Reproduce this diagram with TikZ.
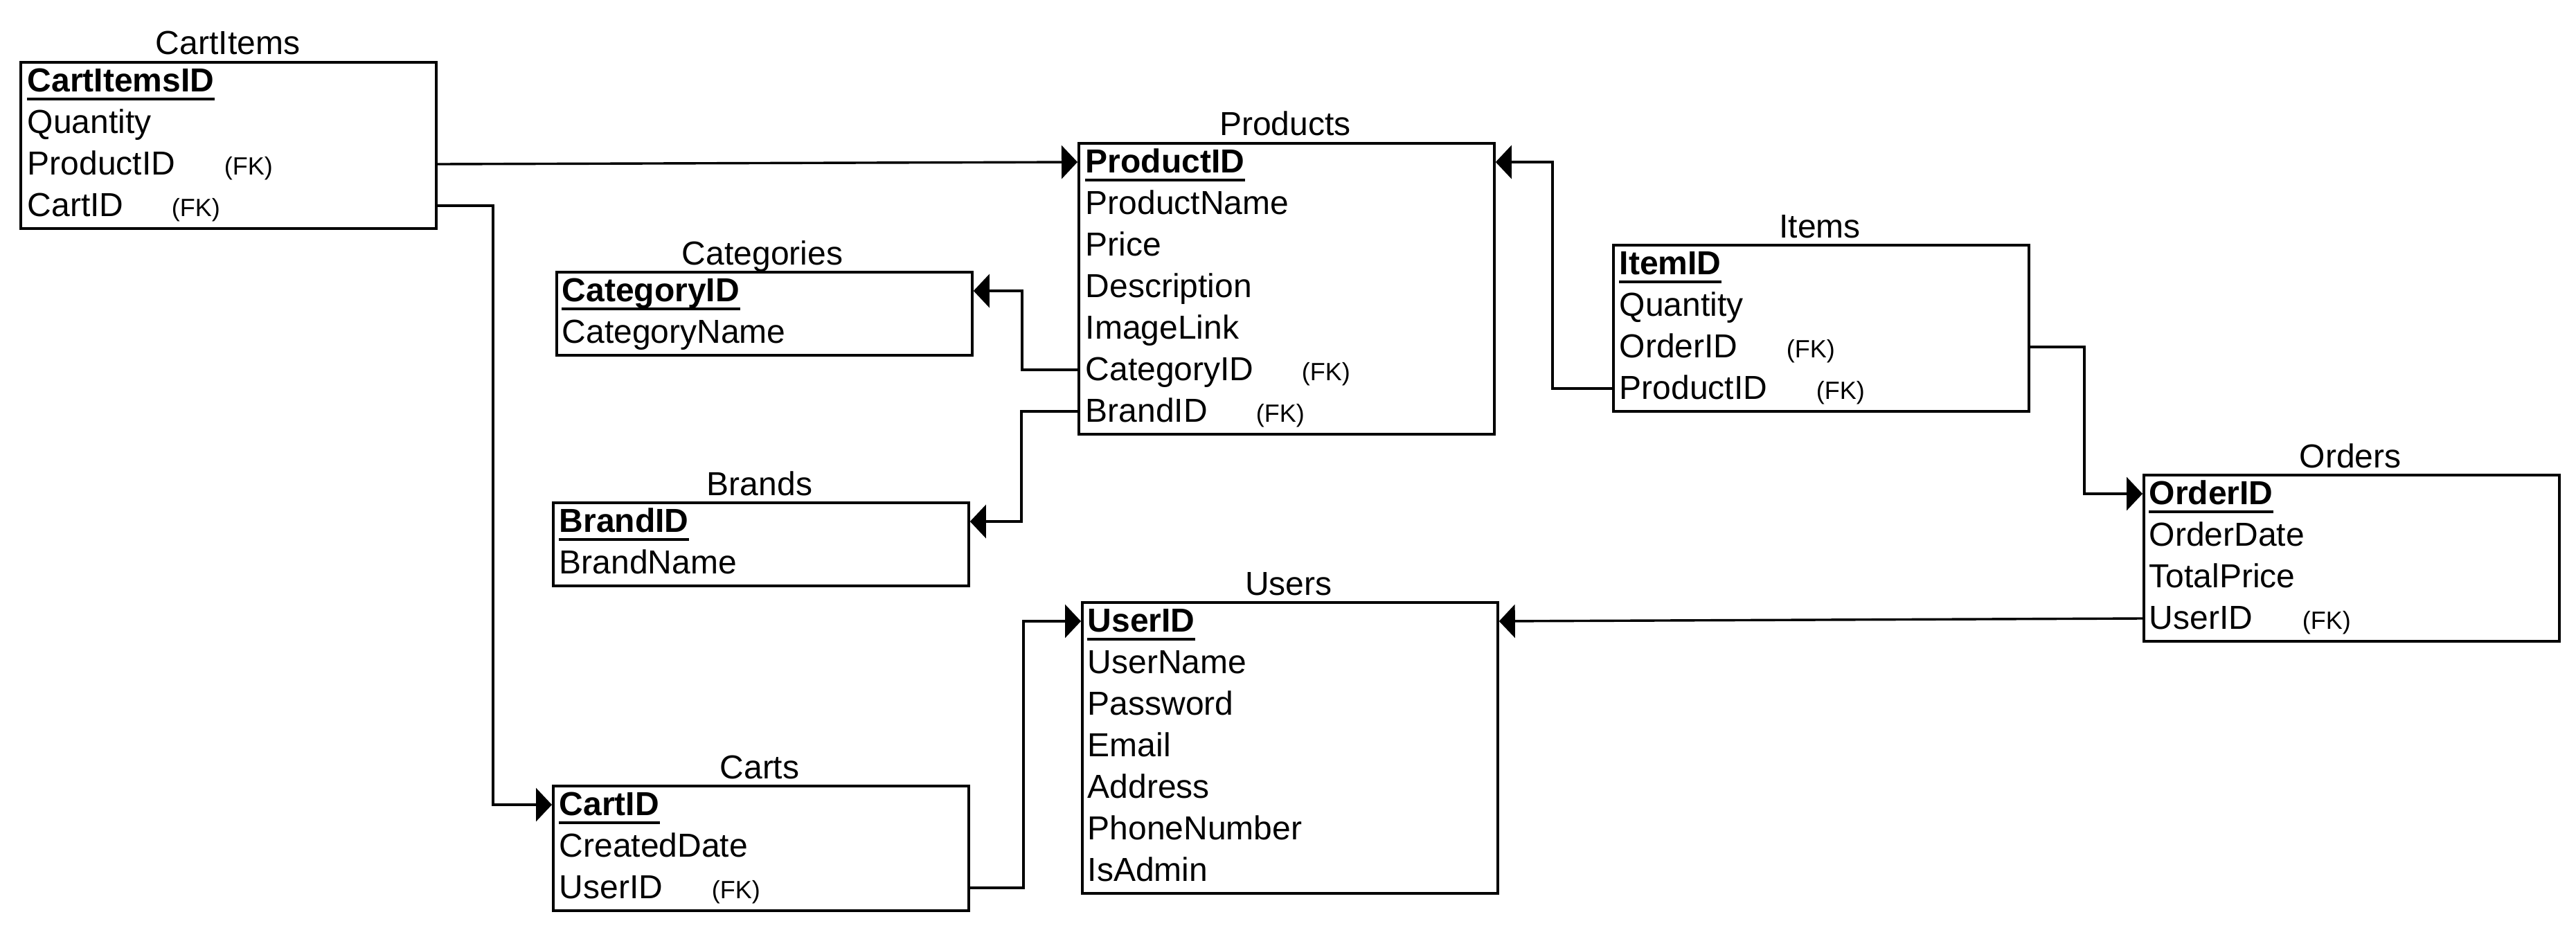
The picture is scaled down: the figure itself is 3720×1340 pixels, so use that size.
\documentclass[tikz,border=0pt]{standalone}
\usepackage{fontspec}
\setmainfont{Liberation Sans}
\usetikzlibrary{arrows.meta}
\tikzset{
  tbl/.style={draw, line width=0.95pt, minimum width=150pt, inner sep=0pt, anchor=north west},
  rowtxt/.style={anchor=west, inner sep=0pt, text height=9.2pt, text depth=1.3pt, font=\fontsize{12}{14}\selectfont},
  pkey/.style={rowtxt, font=\fontsize{12}{14}\selectfont\bfseries},
  fkey/.style={rowtxt, font=\fontsize{9}{11}\selectfont},
  ttl/.style={anchor=base, inner sep=0pt, font=\fontsize{12}{14}\selectfont},
  uline/.style={line width=0.9pt},
  link/.style={line width=0.85pt, -{Triangle[length=5.75pt,width=12pt]}}
}
\begin{document}
\begin{tikzpicture}[x=0.25pt,y=-0.25pt]
\useasboundingbox (0,0) rectangle (3720,1340);
% CartItems
\node[tbl, minimum height=60pt] (ci) at (28,88) {};
\node[ttl] (cit) at (329,78) {CartItems};
\node[pkey] (ci1) at (39,117) {CartItemsID};
\node[rowtxt] (ci2) at (39,177) {Quantity};
\node[rowtxt] (ci3) at (39,237) {ProductID};
\node[rowtxt] (ci4) at (39,297) {CartID};
\node[fkey] (cif3) at (323,237) {(FK)};
\node[fkey] (cif4) at (247,297) {(FK)};
% Products
\node[tbl, minimum height=105pt] (pr) at (1556,205) {};
\node[ttl] (prt) at (1856,195) {Products};
\node[pkey] (pr1) at (1567,234) {ProductID};
\node[rowtxt] (pr2) at (1567,294) {ProductName};
\node[rowtxt] (pr3) at (1567,354) {Price};
\node[rowtxt] (pr4) at (1567,414) {Description};
\node[rowtxt] (pr5) at (1567,474) {ImageLink};
\node[rowtxt] (pr6) at (1567,534) {CategoryID};
\node[rowtxt] (pr7) at (1567,594) {BrandID};
\node[fkey] (prf6) at (1879,534) {(FK)};
\node[fkey] (prf7) at (1813,594) {(FK)};
% Categories
\node[tbl, minimum height=30pt] (ca) at (802,391) {};
\node[ttl] (cat) at (1101,382) {Categories};
\node[pkey] (ca1) at (811,420) {CategoryID};
\node[rowtxt] (ca2) at (811,480) {CategoryName};
% Brands
\node[tbl, minimum height=30pt] (br) at (797,724) {};
\node[ttl] (brt) at (1097,715) {Brands};
\node[pkey] (br1) at (807,753) {BrandID};
\node[rowtxt] (br2) at (807,813) {BrandName};
% Carts
\node[tbl, minimum height=45pt] (cr) at (797,1133) {};
\node[ttl] (crt) at (1097,1124) {Carts};
\node[pkey] (cr1) at (807,1162) {CartID};
\node[rowtxt] (cr2) at (807,1222) {CreatedDate};
\node[rowtxt] (cr3) at (807,1282) {UserID};
\node[fkey] (crf3) at (1027,1282) {(FK)};
% Users
\node[tbl, minimum height=105pt] (us) at (1561,868) {};
\node[ttl] (ust) at (1861,859) {Users};
\node[pkey] (us1) at (1570,897) {UserID};
\node[rowtxt] (us2) at (1570,957) {UserName};
\node[rowtxt] (us3) at (1570,1017) {Password};
\node[rowtxt] (us4) at (1570,1077) {Email};
\node[rowtxt] (us5) at (1570,1137) {Address};
\node[rowtxt] (us6) at (1570,1197) {PhoneNumber};
\node[rowtxt] (us7) at (1570,1257) {IsAdmin};
% Items
\node[tbl, minimum height=60pt] (it) at (2328,352) {};
\node[ttl] (itt) at (2628,343) {Items};
\node[pkey] (it1) at (2338,381) {ItemID};
\node[rowtxt] (it2) at (2338,441) {Quantity};
\node[rowtxt] (it3) at (2338,501) {OrderID};
\node[rowtxt] (it4) at (2338,561) {ProductID};
\node[fkey] (itf3) at (2579,501) {(FK)};
\node[fkey] (itf4) at (2622,561) {(FK)};
% Orders
\node[tbl, minimum height=60pt] (or) at (3094,684) {};
\node[ttl] (ort) at (3394,675) {Orders};
\node[pkey] (or1) at (3103,713) {OrderID};
\node[rowtxt] (or2) at (3103,773) {OrderDate};
\node[rowtxt] (or3) at (3103,833) {TotalPrice};
\node[rowtxt] (or4) at (3103,893) {UserID};
\node[fkey] (orf4) at (3324,893) {(FK)};
% underlines
\foreach \n in {ci1,pr1,ca1,br1,cr1,us1,it1,or1}
  \draw[uline] ([yshift=-2.5pt]\n.base west) -- ([yshift=-2.5pt]\n.base east);
% connectors
\draw[link] (ci.east |- ci3) -- (pr.west |- pr1);
\draw[link] (ci.east |- ci4) -- ++(80,0) |- (cr.west |- cr1);
\draw[link] (pr.west |- pr6) -- ++(-80,0) |- (ca.east |- ca1);
\draw[link] (pr.west |- pr7) -- ++(-81,0) |- (br.east |- br1);
\draw[link] (cr.east |- cr3) -- ++(77,0) |- (us.west |- us1);
\draw[link] (it.west |- it4) -- ++(-86,0) |- (pr.east |- pr1);
\draw[link] (it.east |- it3) -- ++(78,0) |- (or.west |- or1);
\draw[link] (or.west |- or4) -- (us.east |- us1);
\end{tikzpicture}
\end{document}
